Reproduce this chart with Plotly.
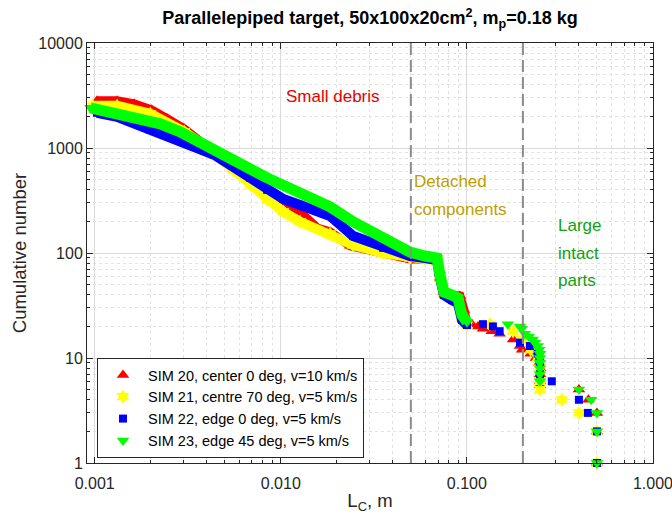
import math
import plotly.graph_objects as go

# ---------------- data ----------------
# SIM 20, center 0 deg, v=10 km/s  (dense part drawn as a band, sparse tail as markers)
sim20_band_L = [0.00103, 0.00132, 0.00163, 0.00202, 0.00246, 0.00303, 0.00365, 0.00555,
                0.00845, 0.0103, 0.0127, 0.0157, 0.0184, 0.0236, 0.0355, 0.0495, 0.0596,
                0.0691, 0.0717, 0.0754, 0.0832, 0.0918, 0.0965, 0.1001]
sim20_band_N = [2817, 2817, 2636, 2311, 1897, 1522, 1170, 691,
                399, 320, 246, 173, 159, 117, 97.8, 87.7, 87.7,
                85.8, 57.8, 42.5, 39.8, 38.9, 28.6, 21.5]
sim20_tail_L = [0.1065, 0.1147, 0.122, 0.136, 0.150, 0.177, 0.193, 0.198, 0.220, 0.235,
                0.245, 0.247, 0.247, 0.247, 0.247, 0.40, 0.45, 0.50, 0.50, 0.50]
sim20_tail_N = [21, 20, 19, 18, 17, 15, 13, 12, 11, 10,
                9, 8, 7, 6, 5.5, 5, 4, 3, 2, 1]

# SIM 21, centre 70 deg, v=5 km/s
sim21_band_L = [0.000972, 0.00132, 0.00199, 0.00303, 0.00418, 0.00555, 0.00685, 0.00845,
                0.0103, 0.0127, 0.0184, 0.0245, 0.0355, 0.0495, 0.0596, 0.0691, 0.0717,
                0.0754, 0.0832, 0.0896, 0.0941, 0.1001]
sim21_band_N = [2523, 2523, 2117, 1426, 960, 619, 445, 320,
                246, 198, 152, 119, 100, 89.6, 87.7, 85.8, 57.8,
                41.5, 37.2, 34.1, 24.0, 20.6]
sim21_tail_L = [0.133, 0.177, 0.198, 0.220, 0.240, 0.245, 0.247, 0.247, 0.324, 0.40, 0.50, 0.50]
sim21_tail_N = [21, 18, 15, 12, 10, 8, 6, 5, 4, 3, 2, 1]

# SIM 22, edge 0 deg, v=5 km/s
sim22_band_L = [0.00103, 0.00132, 0.00199, 0.00303, 0.00439, 0.00685, 0.00845, 0.0103,
                0.0127, 0.0184, 0.0245, 0.0355, 0.0495, 0.0596, 0.0691, 0.0717, 0.0754,
                0.0832, 0.0896, 0.0941, 0.1001]
sim22_band_N = [2164, 1982, 1490, 1120, 860, 519, 399, 327,
                287, 225, 145, 112, 93.6, 89.6, 85.8, 57.8, 39.8,
                35.6, 33.4, 23.0, 20.6]
sim22_tail_L = [0.122, 0.138, 0.150, 0.193, 0.218, 0.240, 0.245, 0.247, 0.247, 0.286,
                0.40, 0.447, 0.50, 0.50]
sim22_tail_N = [21, 20, 18, 14, 13, 11, 10, 9, 7, 6, 4, 3, 2, 1]

# SIM 23, edge 45 deg, v=5 km/s
sim23_band_L = [0.000948, 0.00107, 0.00137, 0.00176, 0.00225, 0.00288, 0.00369, 0.00555,
                0.00845, 0.0127, 0.0184, 0.0245, 0.0355, 0.0495, 0.0596, 0.0691, 0.0717,
                0.0754, 0.0832, 0.0896, 0.0941, 0.1001]
sim23_band_N = [2415, 2311, 2164, 1939, 1700, 1426, 1120, 771,
                519, 373, 275, 198, 139, 102, 93.6, 89.6, 61.7,
                42.5, 39.8, 37.2, 25.6, 22.0]
sim23_tail_L = [0.166, 0.193, 0.197, 0.205, 0.215, 0.226, 0.232, 0.240, 0.245, 0.247,
                0.247, 0.247, 0.247, 0.247, 0.247, 0.40, 0.465, 0.50, 0.50, 0.50]
sim23_tail_N = [21, 20, 19, 17, 16, 15, 14, 13, 12, 11,
                10, 9, 8, 7, 6, 5, 4, 3, 2, 1]

series_names = ["SIM 20, center 0 deg, v=10 km/s", "SIM 21, centre 70 deg, v=5 km/s",
                "SIM 22, edge 0 deg, v=5 km/s", "SIM 23, edge 45 deg, v=5 km/s"]
series_colors = ["#FF0000", "#FFFF00", "#0000FF", "#00FF00"]
series_symbols = ["triangle-up", "hexagram", "square", "triangle-down"]
series_msize = [11, 11, 8, 11]
series_bandw = [9, 10, 10, 11]

x_ticks = [0.001, 0.01, 0.1, 1.0]
x_ticktext = ["0.001", "0.010", "0.100", "1.000"]
y_ticks = [1, 10, 100, 1000, 10000]
y_ticktext = ["1", "10", "100", "1000", "10000"]
region_bounds = [0.05, 0.2]

bands = [(sim20_band_L, sim20_band_N), (sim21_band_L, sim21_band_N),
         (sim22_band_L, sim22_band_N), (sim23_band_L, sim23_band_N)]
tails = [(sim20_tail_L, sim20_tail_N), (sim21_tail_L, sim21_tail_N),
         (sim22_tail_L, sim22_tail_N), (sim23_tail_L, sim23_tail_N)]

FONT = "Arial, 'Liberation Sans', Helvetica, sans-serif"
TXT = "#262626"

fig = go.Figure()
for i in range(4):
    bl, bn = bands[i]
    tl, tn = tails[i]
    fig.add_trace(go.Scatter(
        x=bl, y=bn, mode="lines+markers", showlegend=False, legendgroup=f"g{i}",
        line=dict(color=series_colors[i], width=series_bandw[i]),
        marker=dict(symbol=series_symbols[i], size=series_msize[i], color=series_colors[i],
                    line=dict(width=0)),
        cliponaxis=False, hoverinfo="skip"))
    fig.add_trace(go.Scatter(
        x=tl, y=tn, mode="markers", name=series_names[i], legendgroup=f"g{i}",
        marker=dict(symbol=series_symbols[i], size=series_msize[i], color=series_colors[i],
                    line=dict(width=0)),
        cliponaxis=False))

minor_x = [m * 10 ** e for e in range(-4, 1) for m in range(2, 10) if 0.00091 < m * 10 ** e < 1.0]
minor_y = [m * 10 ** e for e in range(0, 4) for m in range(2, 10)]

axis_common = dict(
    type="log", showline=True, linecolor=TXT, linewidth=1, mirror="allticks",
    ticks="inside", ticklen=6, tickcolor=TXT, tickwidth=1, automargin=False,
    showgrid=True, gridcolor="#dadada", gridwidth=1, zeroline=False,
    tickfont=dict(family=FONT, size=16, color=TXT), ticklabeloverflow="allow",
)

fig.update_xaxes(
    **axis_common, range=[-3.0413, 0.0002], tickmode="array", tickvals=x_ticks, ticktext=x_ticktext,
    ticklabelstandoff=6,
    minor=dict(tickmode="array", tickvals=minor_x, ticks="inside", ticklen=3, tickcolor=TXT,
               showgrid=True, gridcolor="#e2e2e2", griddash="dot", gridwidth=1),
    title=dict(text="L<sub>C</sub>, m", font=dict(family=FONT, size=18.5, color=TXT), standoff=2),
)
fig.update_yaxes(
    **axis_common, range=[0, 4], tickmode="array", tickvals=y_ticks, ticktext=y_ticktext,
    minor=dict(tickmode="array", tickvals=minor_y, ticks="inside", ticklen=3, tickcolor=TXT,
               showgrid=True, gridcolor="#e2e2e2", griddash="dot", gridwidth=1),
    title=dict(text="Cumulative number", font=dict(family=FONT, size=18.5, color=TXT), standoff=6),
)

for b in region_bounds:
    fig.add_shape(type="line", xref="x", yref="paper", x0=b, x1=b, y0=0, y1=1,
                  line=dict(color="#8c8c8c", width=2, dash="12px,5px"), layer="above")

ann = [
    ("Small debris", 0.0191, 3076, "#E60000", "center"),
    ("Detached", 0.0507, 475, "#C0A000", "left"),
    ("components", 0.0507, 257, "#C0A000", "left"),
    ("Large", 0.301, 181, "#12A012", "left"),
    ("intact", 0.301, 100, "#12A012", "left"),
    ("parts", 0.301, 55.2, "#12A012", "left"),
]
for t, x, y, c, xa in ann:
    fig.add_annotation(x=math.log10(x), y=math.log10(y), xref="x", yref="y", text=t,
                       showarrow=False, xanchor=xa, yanchor="middle",
                       font=dict(family=FONT, size=17, color=c))

fig.update_layout(
    width=672, height=525, autosize=False,
    margin=dict(l=87, r=19, t=43, b=62),
    paper_bgcolor="white", plot_bgcolor="white",
    font=dict(family=FONT, color=TXT),
    title=dict(text="<b>Parallelepiped target, 50x100x20cm<sup>2</sup>, m<sub>p</sub>=0.18 kg</b>",
               x=0.5, xref="paper", y=1 - 18 / 525, yanchor="middle",
               font=dict(family=FONT, size=18, color="black")),
    legend=dict(x=0.0177, y=0.012, xanchor="left", yanchor="bottom",
                bgcolor="white", bordercolor=TXT, borderwidth=1,
                font=dict(family=FONT, size=14.5, color="black"),
                itemwidth=40, tracegroupgap=0),
    showlegend=True,
)

fig.write_html("out.html")
